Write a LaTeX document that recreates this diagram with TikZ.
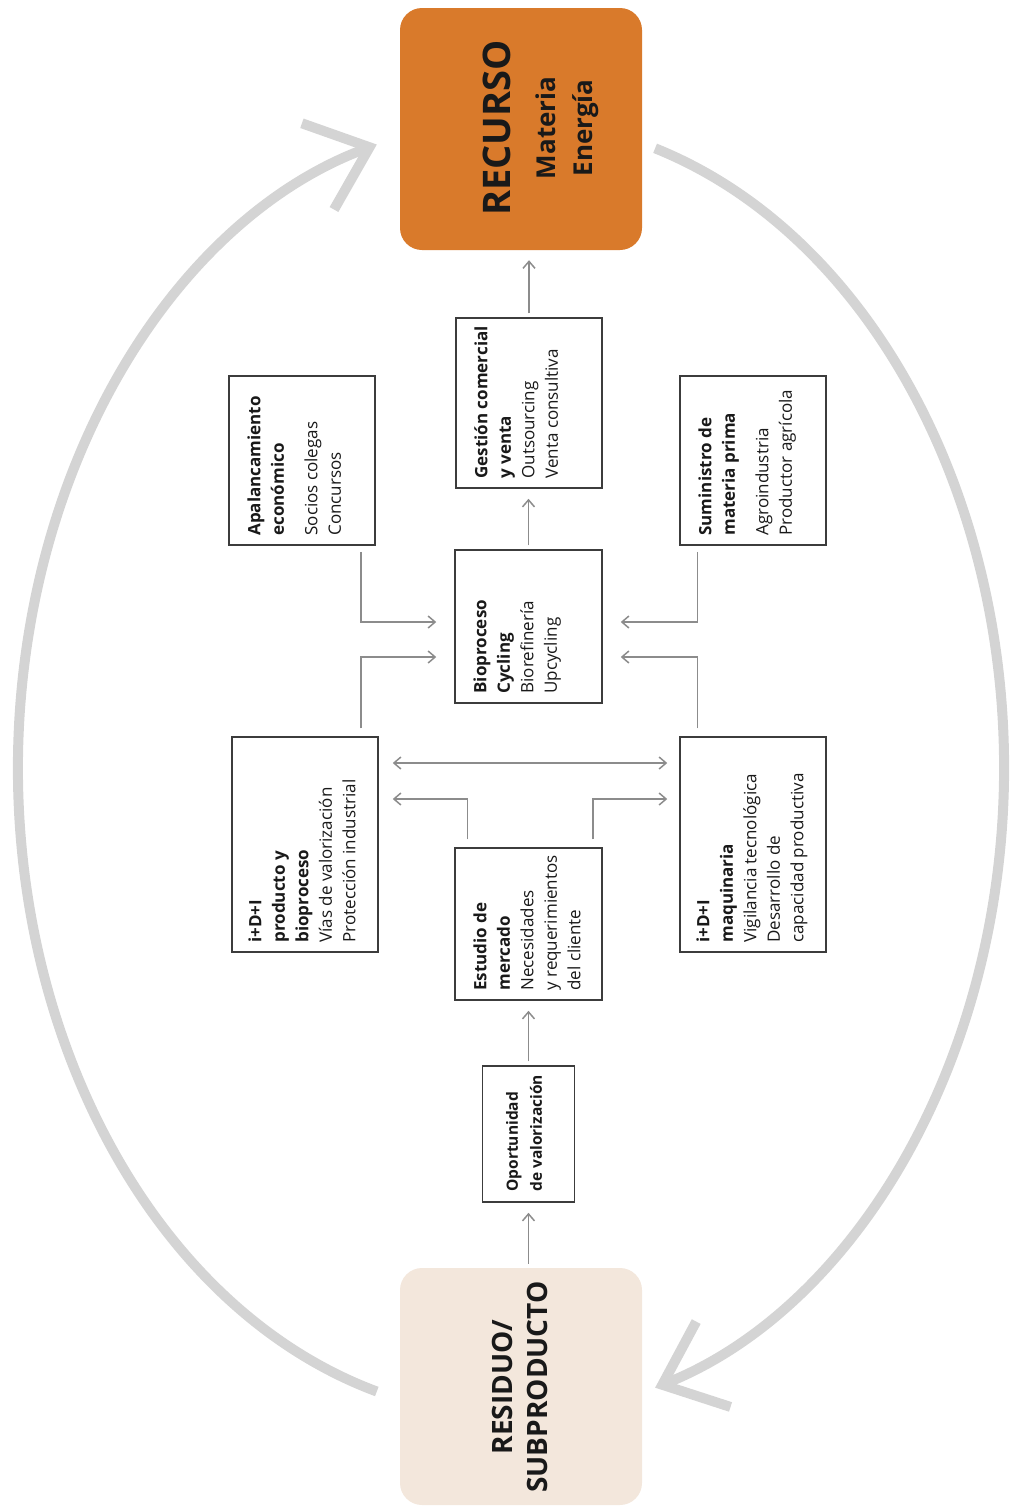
\documentclass[tikz,border=0pt]{standalone}
\usepackage{fontspec}
\setmainfont{Open Sans}
\usetikzlibrary{arrows.meta,calc}
\definecolor{recurso}{HTML}{D97A2B}
\definecolor{residuo}{HTML}{F3E7DC}
\definecolor{arcgray}{HTML}{D4D4D4}
\definecolor{conngray}{HTML}{8C8C8C}
\definecolor{boxline}{HTML}{3C3C3C}
% strut that fixes the height of the first line of a box text
\newcommand\fls{\rule{0pt}{14pt}}

\begin{document}
\begin{tikzpicture}[x=1pt,y=-1pt,
  stage/.style={draw=boxline, line width=1.5pt, fill=white, inner sep=0pt},
  txt/.style={rotate=90, anchor=north west, align=left, inner sep=0pt,
    font=\fontsize{17}{23.5}\selectfont, text=black!90},
  conn/.style={draw=conngray, line width=1.5pt,
    -{Straight Barb[length=7pt,width=12pt]}},
  bigarc/.style={draw=arcgray, line width=10pt,
    -{Straight Barb[length=55pt,width=92pt]}},
]
\useasboundingbox (0,0) rectangle (1020,1507);

% ---- resource and waste blocks
\node[fill=recurso, rounded corners=22pt, minimum width=242pt, minimum height=242pt,
  inner sep=0pt] (recurso) at (521,129) {};
\node[rotate=90, align=center, inner sep=0pt, text=black!90,
  font=\bfseries\fontsize{26}{37}\selectfont] (recursotxt) at (541,128)
  {{\fontsize{38}{40}\selectfont RECURSO}\\[8pt]Materia\\Energía};

\node[fill=residuo, rounded corners=22pt, minimum width=242pt, minimum height=237pt,
  inner sep=0pt] (residuo) at (521,1386.5) {};
\node[rotate=90, align=center, inner sep=0pt, text=black!90,
  font=\bfseries\fontsize{28}{35}\selectfont] (residuotxt) at (520,1387)
  {RESIDUO/\\SUBPRODUCTO};

% ---- stage boxes
\node[stage, minimum width=146pt, minimum height=170pt] (gest) at (529,403) {};
\node[stage, minimum width=146pt, minimum height=169pt] (apal) at (302,460.5) {};
\node[stage, minimum width=146pt, minimum height=169pt] (sumi) at (753,460.5) {};
\node[stage, minimum width=147pt, minimum height=153pt] (bio) at (528.5,626.5) {};
\node[stage, minimum width=146pt, minimum height=215pt] (idip) at (305,844.5) {};
\node[stage, minimum width=146pt, minimum height=215pt] (idim) at (753,844.5) {};
\node[stage, minimum width=147pt, minimum height=152pt] (estu) at (528.5,924) {};
\node[stage, minimum width=92pt, minimum height=136pt] (opor) at (528.5,1134) {};

% ---- stage texts
\node[txt] (gesttxt) at ($(gest.south west)+(18pt,10pt)$)
  {\fls\textbf{Gestión comercial}\\\textbf{y venta}\\Outsourcing\\Venta consultiva};
\node[txt] (apaltxt) at ($(apal.south west)+(18pt,10pt)$)
  {\fls\textbf{Apalancamiento}\\\textbf{económico}\\[10pt]Socios colegas\\Concursos};
\node[txt] (sumitxt) at ($(sumi.south west)+(18pt,10pt)$)
  {\fls\textbf{Suministro de}\\\textbf{materia prima}\\[10pt]Agroindustria\\Productor agrícola};
\node[txt] (biotxt) at ($(bio.south west)+(18pt,10pt)$)
  {\fls\textbf{Bioproceso}\\\textbf{Cycling}\\Biorefinería\\Upcycling};
\node[txt] (idiptxt) at ($(idip.south west)+(16pt,10pt)$)
  {\fls\textbf{i+D+I}\\\textbf{producto y}\\\textbf{bioproceso}\\Vías de valorización\\Protección industrial};
\node[txt] (idimtxt) at ($(idim.south west)+(16pt,10pt)$)
  {\fls\textbf{i+D+I}\\\textbf{maquinaria}\\Vigilancia tecnológica\\Desarrollo de\\capacidad productiva};
\node[txt] (estutxt) at ($(estu.south west)+(18pt,10pt)$)
  {\fls\textbf{Estudio de}\\\textbf{mercado}\\Necesidades\\y requerimientos\\del cliente};
\node[txt, font=\fontsize{15.5}{24}\selectfont] (oportxt) at ($(opor.south west)+(22pt,11pt)$)
  {\fls\textbf{Oportunidad}\\\textbf{de valorización}};

% ---- main chain
\draw[conn, shorten <=4pt, shorten >=10pt] (opor.south |- residuo.north) -- (opor.south);
\draw[conn, shorten <=4pt, shorten >=10pt] (opor.north) -- (opor.north |- estu.south);
\draw[conn, shorten <=4pt, shorten >=10pt] (bio.north) -- (bio.north |- gest.south);
\draw[conn, shorten <=4pt, shorten >=10pt] (gest.north) -- (gest.north |- recurso.south);

% ---- inputs to the bioprocess
\draw[conn, shorten <=6pt, shorten >=18pt] ([xshift=-15pt]apal.south east) |- ([yshift=4.5pt]bio.west);
\draw[conn, shorten <=8pt, shorten >=18pt] ([xshift=-18pt]idip.north east) |- ([yshift=-30.5pt]bio.west);
\draw[conn, shorten <=6pt, shorten >=18pt] ([xshift=18pt]sumi.south west) |- ([yshift=4.5pt]bio.east);
\draw[conn, shorten <=8pt, shorten >=18pt] ([xshift=18pt]idim.north west) |- ([yshift=-30.5pt]bio.east);

% ---- R&D links
\draw[conn, {Straight Barb[length=7pt,width=12pt]}-{Straight Barb[length=7pt,width=12pt]},
  shorten <=14pt, shorten >=12pt] ([yshift=81.5pt]idip.east) -- ([yshift=81.5pt]idim.west);
\draw[conn, shorten <=8pt, shorten >=14pt] ([xshift=13pt]estu.north west) |- ([yshift=45.5pt]idip.east);
\draw[conn, shorten <=8pt, shorten >=12pt] ([xshift=-10pt]estu.north east) |- ([yshift=45.5pt]idim.west);

% ---- outer cycle
\coordinate (cycleL) at (376.8,1391.5);
\coordinate (cycleR) at (655.1,148.3);
\draw[bigarc] (cycleL) arc[start angle=254.2, end angle=105.8, x radius=493pt, y radius=648pt];
\draw[bigarc] (cycleR) arc[start angle=73, end angle=-73, x radius=493pt, y radius=648pt];
\end{tikzpicture}
\end{document}
